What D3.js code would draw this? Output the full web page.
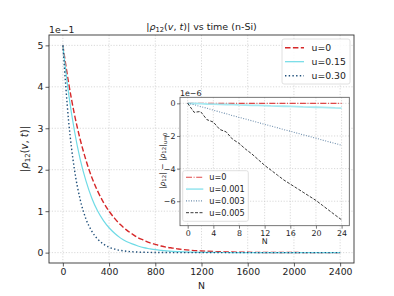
<!DOCTYPE html>
<html>
<head>
<meta charset="utf-8">
<script src="https://cdn.jsdelivr.net/npm/d3@7"></script>
<style>
  body { margin: 0; background: #fff; }
  text { font-family: "DejaVu Sans", sans-serif; fill: #222; }
  .grid line { stroke: #c8c8c8; stroke-dasharray: 1.2,1.6; stroke-width: 0.7; }
</style>
</head>
<body>
<div id="chart"></div>
<script>
// main panel: |rho12| against N
var mainN = [0, 50, 100, 150, 200, 250, 300, 350, 400, 450, 500, 550, 600, 650, 700, 750, 800, 850, 900, 950, 1000,
  1100, 1200, 1300, 1400, 1500, 1600, 1700, 1800, 1900, 2000, 2100, 2200, 2300, 2400];
var rhoU0 = [0.5, 0.409, 0.334, 0.273, 0.223, 0.182, 0.149, 0.122, 0.100, 0.082, 0.067, 0.055, 0.045, 0.036, 0.030, 0.024, 0.020, 0.016, 0.013, 0.011, 0.0089,
  0.0059, 0.0040, 0.0027, 0.0018, 0.0012, 0.0008, 0.0005, 0.0004, 0.0002, 0.0002, 0.0001, 0.0001, 0, 0];
var rhoU015 = [0.5, 0.383, 0.294, 0.225, 0.173, 0.132, 0.101, 0.078, 0.060, 0.046, 0.035, 0.027, 0.021, 0.016, 0.012, 0.0094, 0.0071, 0.0055, 0.0042, 0.0032, 0.0025,
  0.0014, 0.0008, 0.0005, 0.0003, 0.0002, 0.0001, 0.0001, 0, 0, 0, 0, 0, 0, 0];
var rhoU030 = [0.5, 0.317, 0.201, 0.128, 0.081, 0.052, 0.033, 0.021, 0.013, 0.0084, 0.0053, 0.0034, 0.0021, 0.0014, 0.0009, 0.0006, 0.0004, 0.0002, 0.0002, 0.0001, 0.0001,
  0, 0, 0, 0, 0, 0, 0, 0, 0, 0, 0, 0, 0, 0];
var mainXTicks = [0, 400, 800, 1200, 1600, 2000, 2400];
var mainYTicks = [0, 1, 2, 3, 4, 5];   // in units of 1e-1

// inset: difference from u=0, units of 1e-6
var insetN = [0, 1, 2, 3, 4, 5, 6, 7, 8, 9, 10, 11, 12, 13, 14, 15, 16, 17, 18, 19, 20, 21, 22, 23, 24];
var diffU0 = [0, 0, 0, 0, 0, 0, 0, 0, 0, 0, 0, 0, 0, 0, 0, 0, 0, 0, 0, 0, 0, 0, 0, 0, 0];
var diffU001 = [0, -0.01, -0.02, -0.04, -0.05, -0.06, -0.07, -0.08, -0.1, -0.11, -0.12, -0.13, -0.14, -0.16, -0.17, -0.18, -0.19, -0.2, -0.22, -0.23, -0.24, -0.25, -0.26, -0.28, -0.29];
var diffU003 = [0, -0.08, -0.2, -0.3, -0.42, -0.53, -0.64, -0.75, -0.86, -0.96, -1.07, -1.18, -1.29, -1.39, -1.5, -1.61, -1.71, -1.82, -1.93, -2.03, -2.14, -2.25, -2.36, -2.46, -2.57];
var diffU005 = [0, -0.55, -0.5, -1.0, -1.15, -1.6, -1.75, -2.2, -2.45, -2.8, -3.1, -3.45, -3.8, -4.1, -4.4, -4.7, -4.95, -5.2, -5.45, -5.7, -5.95, -6.25, -6.55, -6.85, -7.14];
var insetXTicks = [0, 4, 8, 12, 16, 20, 24];
var insetYTicks = [0, -2, -4, -6];

var mainSeries = [
  { label: "u=0", values: rhoU0, color: "#d62728", dash: "5.5,2.4", width: 1.4 },
  { label: "u=0.15", values: rhoU015, color: "#6fdbe6", dash: null, width: 1.2 },
  { label: "u=0.30", values: rhoU030, color: "#1f4f7a", dash: "1.4,2.3", width: 1.4 }
];
var insetSeries = [
  { label: "u=0", values: diffU0, color: "#e04848", dash: "6,1.6,1,1.6", width: 1.1 },
  { label: "u=0.001", values: diffU001, color: "#a6e9f1", dash: null, width: 1.8 },
  { label: "u=0.003", values: diffU003, color: "#6f8fae", dash: "1,1.5", width: 1.1 },
  { label: "u=0.005", values: diffU005, color: "#222", dash: "3,1.5", width: 0.9 }
];

var width = 394, height = 296;
var svg = d3.select("#chart").append("svg")
  .attr("width", width)
  .attr("height", height);

// ---- main axes
var x = d3.scaleLinear().domain([-120, 2520]).range([49, 354]);
var y = d3.scaleLinear().domain([-0.25, 5.25]).range([263, 35]);

var grid = svg.append("g").attr("class", "grid");
grid.selectAll(".gx").data(mainXTicks).enter().append("line")
  .attr("x1", d => x(d)).attr("x2", d => x(d)).attr("y1", 35).attr("y2", 263);
grid.selectAll(".gy").data(mainYTicks).enter().append("line")
  .attr("x1", 49).attr("x2", 354).attr("y1", d => y(d)).attr("y2", d => y(d));

var line = d3.line()
  .x((d, i) => x(mainN[i]))
  .y(d => y(d * 10))
  .curve(d3.curveMonotoneX);

svg.append("g").selectAll("path")
  .data(mainSeries)
  .enter().append("path")
  .attr("d", d => line(d.values))
  .attr("fill", "none")
  .attr("stroke", d => d.color)
  .attr("stroke-width", d => d.width)
  .attr("stroke-dasharray", d => d.dash);

svg.append("rect")
  .attr("x", 49).attr("y", 35).attr("width", 305).attr("height", 228)
  .attr("fill", "none").attr("stroke", "#333").attr("stroke-width", 0.9);

var xAxis = svg.append("g")
  .attr("transform", "translate(0,263)")
  .call(d3.axisBottom(x).tickValues(mainXTicks).tickFormat(d3.format("d")).tickSize(3.5).tickPadding(2));
var yAxis = svg.append("g")
  .attr("transform", "translate(49,0)")
  .call(d3.axisLeft(y).tickValues(mainYTicks).tickFormat(d3.format("d")).tickSize(3.5).tickPadding(2));
[xAxis, yAxis].forEach(function(a) {
  a.select(".domain").remove();
  a.selectAll("line").attr("stroke", "#333").attr("stroke-width", 0.8);
  a.selectAll("text").style("font-family", "DejaVu Sans").style("font-size", "9.3px").attr("fill", "#222");
});

svg.append("text").attr("x", 49).attr("y", 33)
  .style("font-size", "9.3px").text("1e\u22121");

var title = svg.append("text").attr("x", 201.5).attr("y", 30)
  .attr("text-anchor", "middle").style("font-size", "9.5px");
title.append("tspan").text("|");
title.append("tspan").style("font-style", "italic").text("\u03c1");
title.append("tspan").attr("baseline-shift", "-25%").style("font-size", "6.8px").text("12");
title.append("tspan").text("(");
title.append("tspan").style("font-style", "italic").text("v");
title.append("tspan").text(", ");
title.append("tspan").style("font-style", "italic").text("t");
title.append("tspan").text(")| vs time (n-Si)");

svg.append("text").attr("x", 201.5).attr("y", 289)
  .attr("text-anchor", "middle").style("font-size", "9.3px").text("N");

var ylab = svg.append("text")
  .attr("transform", "translate(28,149) rotate(-90)")
  .attr("text-anchor", "middle").style("font-size", "10px");
ylab.append("tspan").text("|");
ylab.append("tspan").style("font-style", "italic").text("\u03c1");
ylab.append("tspan").attr("baseline-shift", "-25%").style("font-size", "7px").text("12");
ylab.append("tspan").text("(");
ylab.append("tspan").style("font-style", "italic").text("v");
ylab.append("tspan").text(", ");
ylab.append("tspan").style("font-style", "italic").text("t");
ylab.append("tspan").text(")|");

// main legend
var leg = svg.append("g");
leg.append("rect").attr("x", 282).attr("y", 39).attr("width", 68).attr("height", 45).attr("rx", 2)
  .attr("fill", "#fff").attr("fill-opacity", 0.85).attr("stroke", "#d8d8d8").attr("stroke-width", 0.8);
var legItem = leg.selectAll(".li").data(mainSeries).enter().append("g")
  .attr("transform", (d, i) => "translate(0," + (47.7 + i * 14) + ")");
legItem.append("line").attr("x1", 285).attr("x2", 304)
  .attr("stroke", d => d.color).attr("stroke-width", d => d.width)
  .attr("stroke-dasharray", d => d.dash);
legItem.append("text").attr("x", 311.5).attr("y", 3.3)
  .style("font-size", "9.3px").text(d => d.label);

// ---- inset axes
var ix = d3.scaleLinear().domain([-1.2, 25.2]).range([180, 349.3]);
var iy = d3.scaleLinear().domain([-7.5, 0.37]).range([225.7, 97.3]);

var inset = svg.append("g");
inset.append("rect").attr("x", 180).attr("y", 97.3).attr("width", 169.3).attr("height", 128.4)
  .attr("fill", "#fff");
inset.append("clipPath").attr("id", "iclip").append("rect")
  .attr("x", 180).attr("y", 97.3).attr("width", 169.3).attr("height", 128.4);

var igrid = inset.append("g").attr("class", "grid");
igrid.selectAll(".gx").data(insetXTicks).enter().append("line")
  .attr("x1", d => ix(d)).attr("x2", d => ix(d)).attr("y1", 97.3).attr("y2", 225.7);
igrid.selectAll(".gy").data(insetYTicks).enter().append("line")
  .attr("x1", 180).attr("x2", 349.3).attr("y1", d => iy(d)).attr("y2", d => iy(d));

var iline = d3.line()
  .x((d, i) => ix(insetN[i]))
  .y(d => iy(d));

inset.append("g").attr("clip-path", "url(#iclip)").selectAll("path")
  .data(insetSeries)
  .enter().append("path")
  .attr("d", d => iline(d.values))
  .attr("fill", "none")
  .attr("stroke", d => d.color)
  .attr("stroke-width", d => d.width)
  .attr("stroke-dasharray", d => d.dash);

inset.append("rect")
  .attr("x", 180).attr("y", 97.3).attr("width", 169.3).attr("height", 128.4)
  .attr("fill", "none").attr("stroke", "#555").attr("stroke-width", 0.8);

var ixAxis = inset.append("g")
  .attr("transform", "translate(0,225.7)")
  .call(d3.axisBottom(ix).tickValues(insetXTicks).tickSize(3).tickPadding(1.5));
var iyAxis = inset.append("g")
  .attr("transform", "translate(180,0)")
  .call(d3.axisLeft(iy).tickValues(insetYTicks).tickSize(3).tickPadding(1.5)
    .tickFormat(d => d < 0 ? "\u2212" + Math.abs(d) : d));
[ixAxis, iyAxis].forEach(function(a) {
  a.select(".domain").remove();
  a.selectAll("line").attr("stroke", "#444").attr("stroke-width", 0.7);
  a.selectAll("text").style("font-family", "DejaVu Sans").style("font-size", "7.9px").attr("fill", "#222");
});

inset.append("text").attr("x", 180).attr("y", 95.5)
  .style("font-size", "7.9px").text("1e\u22126");
inset.append("text").attr("x", 264.6).attr("y", 244)
  .attr("text-anchor", "middle").style("font-size", "7.9px").text("N");

var iylab = inset.append("text")
  .attr("transform", "translate(165,161) rotate(-90)")
  .attr("text-anchor", "middle").style("font-size", "7.6px");
iylab.append("tspan").text("|");
iylab.append("tspan").style("font-style", "italic").text("\u03c1");
iylab.append("tspan").attr("baseline-shift", "-25%").style("font-size", "5.4px").text("12");
iylab.append("tspan").text("| \u2212 |");
iylab.append("tspan").style("font-style", "italic").text("\u03c1");
iylab.append("tspan").attr("baseline-shift", "-25%").style("font-size", "5.4px").text("12");
iylab.append("tspan").text("|");
iylab.append("tspan").attr("baseline-shift", "-30%").style("font-size", "5.4px").text("u=0");

// inset legend
var ileg = inset.append("g");
ileg.append("rect").attr("x", 182.7).attr("y", 170.7).attr("width", 65.6).attr("height", 50.6).attr("rx", 2)
  .attr("fill", "#fff").attr("fill-opacity", 0.85).attr("stroke", "#d8d8d8").attr("stroke-width", 0.8);
var ilegItem = ileg.selectAll(".li").data(insetSeries).enter().append("g")
  .attr("transform", (d, i) => "translate(0," + (177.3 + i * 11.8) + ")");
ilegItem.append("line").attr("x1", 186).attr("x2", 203.3)
  .attr("stroke", d => d.color).attr("stroke-width", d => d.width)
  .attr("stroke-dasharray", d => d.dash);
ilegItem.append("text").attr("x", 209.3).attr("y", 2.9)
  .style("font-size", "8.2px").text(d => d.label);
</script>
</body>
</html>
